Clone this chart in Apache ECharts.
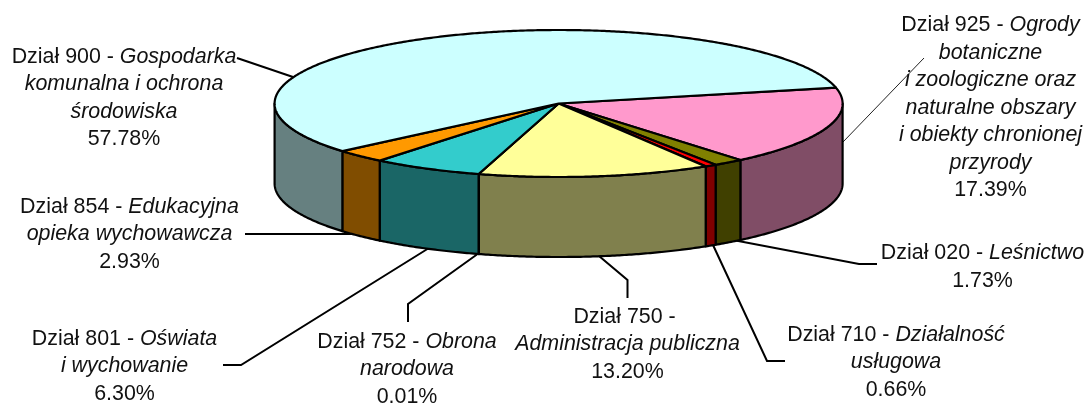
<!DOCTYPE html>
<html>
<head>
<meta charset="utf-8">
<style>
  html, body { margin: 0; padding: 0; background: #fff; }
  #chart { width: 1087px; height: 403px; }
</style>
<script src="https://cdn.jsdelivr.net/npm/echarts@6/dist/echarts.min.js"></script>
</head>
<body>
<div id="chart"></div>
<script>
  // slices, clockwise from the pink one
  const codes = ['925', '020', '710', '750', '752', '801', '854', '900'];
  const shares = [17.39, 1.73, 0.66, 13.20, 0.01, 6.30, 2.93, 57.78];
  const topColors = ['#FF99CC', '#808000', '#FF0000', '#FFFF99', '#3366FF', '#33CCCC', '#FF9900', '#CCFFFF'];
  const sideColors = ['#804D66', '#404000', '#800000', '#80804D', '#1A3380', '#1A6666', '#804D00', '#668080'];

  // label text, per line: plain part then italic part
  const labelLines = [
    [['Dział 925 - ', 'Ogrody'], ['', 'botaniczne'], ['', 'i zoologiczne oraz'], ['', 'naturalne obszary'], ['', 'i obiekty chronionej'], ['', 'przyrody']],
    [['Dział 020 - ', 'Leśnictwo']],
    [['Dział 710 - ', 'Działalność'], ['', 'usługowa']],
    [['Dział 750 - ', ''], ['', 'Administracja publiczna']],
    [['Dział 752 - ', 'Obrona'], ['', 'narodowa']],
    [['Dział 801 - ', 'Oświata'], ['', 'i wychowanie']],
    [['Dział 854 - ', 'Edukacyjna'], ['', 'opieka wychowawcza']],
    [['Dział 900 - ', 'Gospodarka'], ['', 'komunalna i ochrona'], ['', 'środowiska']]
  ];

  // pie geometry
  const CX = 558.6, CY = 103.5, RX = 284, RY = 73.5, DEPTH = 80;
  const START_DEG = -12.4;

  // where each label is centred (x, top y) and its leader line
  const labelPos = [[990.5, 11.5], [982.5, 239.5], [896, 321], [627.5, 303], [407, 328], [124.5, 325], [129.5, 193], [124, 43]];
  const leaders = [
    [[924, 58], [843, 142]],
    [[733, 240], [859, 264], [877, 264]],
    [[713, 245], [767, 361], [785, 361]],
    [[599, 256], [627.5, 280], [627.5, 298]],
    [[479, 253], [408, 304], [408, 322]],
    [[429, 248], [241, 365], [223, 365]],
    [[245, 234], [358, 234]],
    [[237, 58], [293, 77]]
  ];

  const total = shares.reduce((a, b) => a + b, 0);
  const toDeg = v => echarts.number.linearMap(v, [0, total], [START_DEG, START_DEG + 360]);
  const rad = d => d * Math.PI / 180;

  // running share at the start of each slice
  const cumulative = [];
  shares.reduce((sum, v, i) => { cumulative[i] = sum; return sum + v; }, 0);

  function rim(a0, a1, dy) {
    const pts = [];
    const n = Math.max(1, Math.ceil((a1 - a0) / 0.5));
    for (let i = 0; i <= n; i++) {
      const a = rad(a0 + (a1 - a0) * i / n);
      pts.push([CX + RX * Math.cos(a), CY + dy + RY * Math.sin(a)]);
    }
    return pts;
  }

  function renderSlice(params, api) {
    const i = params.dataIndex;
    const a0 = toDeg(cumulative[i]);
    const a1 = toDeg(cumulative[i] + api.value(0));
    const line = { stroke: '#000', lineWidth: 2.2, lineJoin: 'round' };
    const children = [];

    // visible wall: the front half only, 0..180 and 360..540
    [[0, 180], [360, 540]].forEach(front => {
      const w0 = Math.max(a0, front[0]);
      const w1 = Math.min(a1, front[1]);
      if (w1 > w0) {
        const upper = rim(w0, w1, 0);
        const lower = rim(w0, w1, DEPTH).reverse();
        children.push({
          type: 'polygon',
          shape: { points: upper.concat(lower) },
          style: Object.assign({ fill: sideColors[i] }, line)
        });
      }
    });

    children.push({
      type: 'polygon',
      shape: { points: [[CX, CY]].concat(rim(a0, a1, 0)) },
      style: Object.assign({ fill: topColors[i] }, line)
    });
    return { type: 'group', children: children };
  }

  function labelText(i) {
    const rows = labelLines[i].map(parts => {
      let row = '';
      if (parts[0]) row += '{r|' + parts[0] + '}';
      if (parts[1]) row += '{i|' + parts[1] + '}';
      return row;
    });
    rows.push('{r|' + shares[i].toFixed(2) + '%}');
    return rows.join('\n');
  }

  const FONT = '"Liberation Sans", Arial, sans-serif';
  const graphics = [];
  leaders.forEach((pts, i) => {
    graphics.push({
      type: 'polyline',
      z: 1,
      shape: { points: pts },
      style: { stroke: i === 0 ? '#222' : '#000', lineWidth: i === 0 ? 1 : 2, fill: null }
    });
  });
  labelPos.forEach((p, i) => {
    graphics.push({
      type: 'text',
      z: 5,
      x: p[0],
      y: p[1],
      style: {
        text: labelText(i),
        align: 'center',
        verticalAlign: 'top',
        rich: {
          r: { fontFamily: FONT, fontSize: 21.4, lineHeight: 27.5, fill: '#111' },
          i: { fontFamily: FONT, fontSize: 21.4, lineHeight: 27.5, fontStyle: 'italic', fill: '#111' }
        }
      }
    });
  });

  const chart = echarts.init(document.getElementById('chart'), null, { renderer: 'canvas' });
  chart.setOption({
    animation: false,
    backgroundColor: '#fff',
    graphic: graphics,
    series: [{
      type: 'custom',
      coordinateSystem: 'none',
      z: 3,
      silent: true,
      renderItem: renderSlice,
      data: shares.map((v, i) => ({ name: codes[i], value: [v] }))
    }]
  });
</script>
</body>
</html>
